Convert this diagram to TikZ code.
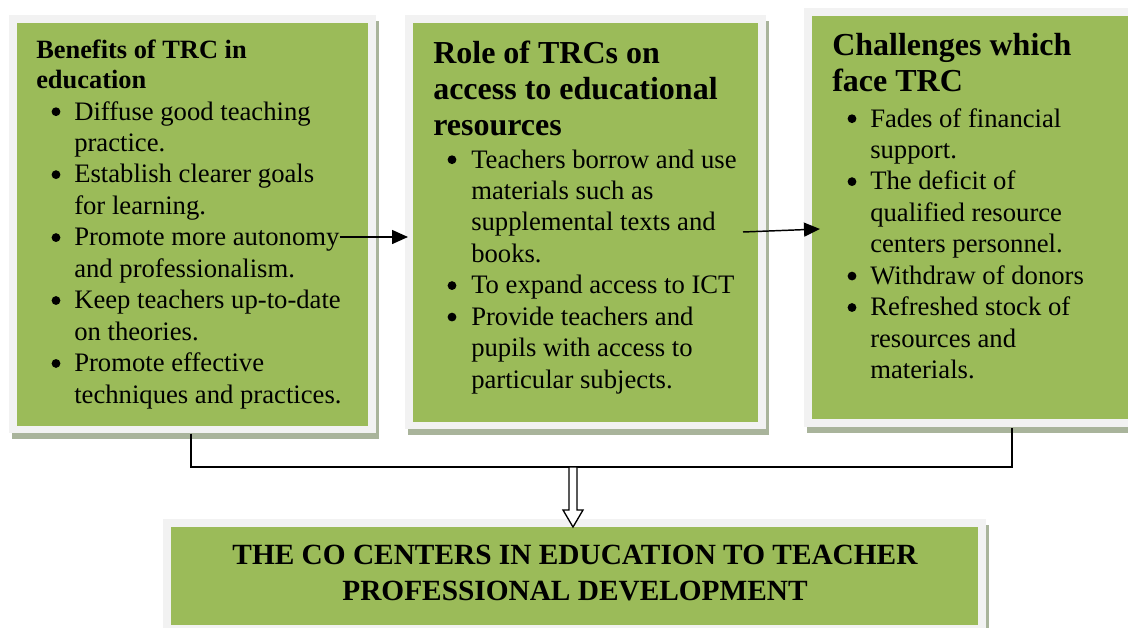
\documentclass[tikz,border=0pt]{standalone}
\usepackage{fontspec}
\setmainfont{Liberation Serif}
\usetikzlibrary{arrows.meta,shadows,calc}
\definecolor{boxgreen}{HTML}{9BBB59}
\definecolor{framegray}{HTML}{F2F2F2}
\definecolor{shadegray}{HTML}{A9B49B}

% body text of the panels
\newcommand\bodyfont{\fontsize{20}{23.6}\selectfont}

\begin{document}
\begin{tikzpicture}[x=0.75pt,y=-0.75pt,
  frame/.style={fill=framegray, draw=none, inner sep=0, anchor=north west,
    drop shadow={shadow xshift=2.25pt, shadow yshift=-4pt, fill=shadegray, opacity=1}},
  panel/.style={fill=boxgreen, draw=none, inner sep=0, anchor=north west},
  txt/.style={inner sep=0, anchor=base west},
  link/.style={line width=1.1pt},
  flow/.style={line width=1.1pt, -{Triangle[length=12pt,width=10.5pt]}}]

\useasboundingbox (0,0) rectangle (1128,628);

% framed panels
\node[frame, minimum width=275.25pt, minimum height=313.5pt] (b1) at (9,15) {};
\node[panel, minimum width=263.25pt, minimum height=302.25pt] (p1) at (17,23) {};
\node[frame, minimum width=270.75pt, minimum height=310.5pt] (b2) at (405,15) {};
\node[panel, minimum width=258.75pt, minimum height=299.25pt] (p2) at (413,23) {};
\node[frame, minimum width=252pt, minimum height=314.25pt] (b3) at (804,8) {};
\node[panel, minimum width=246pt, minimum height=302.25pt] (p3) at (812,16) {};
\node[frame, minimum width=617.25pt, minimum height=87pt] (b4) at (163,519) {};
\node[panel, minimum width=605.25pt, minimum height=73.5pt] (p4) at (171,527) {};

% panel texts
\node[txt] (t1) at (36,58) {\parbox[t]{300pt}{\fontsize{19.8}{22.5}\selectfont\bfseries
  Benefits of TRC in\\education}};
\node[txt] (l1) at (74,120) {\parbox[t]{300pt}{\bodyfont
  Diffuse good teaching\\practice.\\
  Establish clearer goals\\for learning.\\
  Promote more autonomy\\and professionalism.\\
  Keep teachers up-to-date\\on theories.\\
  Promote effective\\techniques and practices.}};

\node[txt] (t2) at (433,63) {\parbox[t]{300pt}{\fontsize{24}{27}\selectfont\bfseries
  Role of TRCs on\\access to educational\\resources}};
\node[txt] (l2) at (471,168) {\parbox[t]{300pt}{\bodyfont
  Teachers borrow and use\\materials such as\\supplemental texts and\\books.\\
  To expand access to ICT\\
  Provide teachers and\\pupils with access to\\particular subjects.}};

\node[txt] (t3) at (832,55) {\parbox[t]{300pt}{\fontsize{24}{27.75}\selectfont\bfseries
  Challenges which\\face TRC}};
\node[txt] (l3) at (870,127) {\parbox[t]{300pt}{\bodyfont
  Fades of financial\\support.\\
  The deficit of\\qualified resource\\centers personnel.\\
  Withdraw of donors\\
  Refreshed stock of\\resources and\\materials.}};

\node[inner sep=0, anchor=base] (t4) at (575,564) {\parbox[t]{700pt}{\centering
  \fontsize{22}{27}\selectfont\bfseries
  THE CO CENTERS IN EDUCATION TO TEACHER\\PROFESSIONAL DEVELOPMENT}};

% bullets in front of the list items (line pitch 31.47 units)
\foreach \i in {0,2,4,6,8}
  \fill ($(l1.base west)+(-18,{\i*31.47-8.3})$) circle (4.4);
\foreach \i in {0,4,5}
  \fill ($(l2.base west)+(-19,{\i*31.47-8.3})$) circle (4.4);
\foreach \i in {0,2,5,6}
  \fill ($(l3.base west)+(-18,{\i*31.47-8.3})$) circle (4.4);

% arrows between the upper panels
\coordinate (a1s) at (340,237);
\coordinate (a1e) at (408,237);
\draw[flow] (a1s) -- (a1e);
\coordinate (a2s) at (743,232);
\coordinate (a2e) at (820,229);
\draw[flow] (a2s) -- (a2e);

% bracket joining the outer panels
\coordinate (jl) at (191,467);
\coordinate (jr) at (1012,467);
\coordinate (jm) at (573,467);
\draw[link] (b1.south -| jl) -- (jl) -- (jr) -- (b3.south -| jr);

% hollow arrow down to the bottom panel
\coordinate (tip) at (p4.north -| jm);
\draw[line width=1pt, fill=white, line join=miter]
  ($(jm)+(-4,0)$) -- ($(tip)+(-4,-17)$) -- ($(tip)+(-10,-17)$) -- (tip)
  -- ($(tip)+(10,-17)$) -- ($(tip)+(4,-17)$) -- ($(jm)+(4,0)$) -- cycle;
\end{tikzpicture}
\end{document}
